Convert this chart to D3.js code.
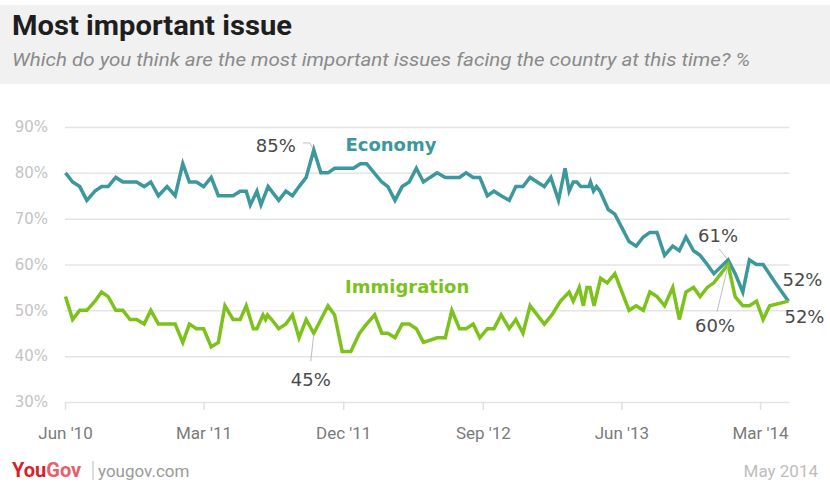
<!DOCTYPE html>
<html>
<head>
<meta charset="utf-8">
<script src="https://cdnjs.cloudflare.com/ajax/libs/d3/7.8.5/d3.min.js"></script>
<style>
  body { margin: 0; background: #fff; }
  svg { display: block; }
</style>
</head>
<body>
<div id="main"></div>
<script>
/*********************************************************
 * Data
 *********************************************************/
const econDates = [
  '2010-06-02', '2010-06-16', '2010-06-30', '2010-07-14', '2010-07-30', '2010-08-12', '2010-08-25',
  '2010-09-09', '2010-09-23', '2010-10-07', '2010-10-20', '2010-11-04', '2010-11-17', '2010-12-02',
  '2010-12-19', '2011-01-04', '2011-01-19', '2011-02-01', '2011-02-15', '2011-03-01', '2011-03-16',
  '2011-03-30', '2011-04-12', '2011-04-28', '2011-05-12', '2011-05-24', '2011-06-01', '2011-06-14',
  '2011-06-22', '2011-07-06', '2011-07-27', '2011-08-10', '2011-08-23', '2011-09-05', '2011-09-19',
  '2011-10-04', '2011-10-18', '2011-11-01', '2011-11-14', '2011-11-29', '2011-12-07', '2011-12-21',
  '2012-01-04', '2012-01-16', '2012-01-31', '2012-02-15', '2012-02-27', '2012-03-12', '2012-03-26',
  '2012-04-09', '2012-04-23', '2012-05-07', '2012-05-20', '2012-06-03', '2012-06-19', '2012-07-02',
  '2012-07-17', '2012-07-30', '2012-08-13', '2012-08-26', '2012-09-10', '2012-09-23', '2012-10-07',
  '2012-10-23', '2012-11-05', '2012-11-19', '2012-12-03', '2012-12-17', '2012-12-31', '2013-01-13',
  '2013-01-28', '2013-02-10', '2013-02-18', '2013-02-26', '2013-03-05', '2013-03-13', '2013-03-29',
  '2013-04-01', '2013-04-07', '2013-04-13', '2013-04-20', '2013-05-06', '2013-05-19', '2013-06-02',
  '2013-06-16', '2013-06-30', '2013-07-14', '2013-07-27', '2013-08-10', '2013-08-25', '2013-09-10',
  '2013-09-23', '2013-10-06', '2013-10-21', '2013-11-03', '2013-11-17', '2013-11-30', '2013-12-28',
  '2014-01-11', '2014-01-26', '2014-02-08', '2014-02-22', '2014-03-07', '2014-03-31', '2014-04-26'
];
const econValues = [
  80, 78, 77, 74, 76, 77, 77,
  79, 78, 78, 78, 77, 78, 75,
  77, 75, 82, 78, 78, 77, 79,
  75, 75, 75, 76, 76, 73, 76,
  73, 77, 74, 76, 75, 77, 79,
  85, 80, 80, 81, 81, 81, 81,
  82, 82, 80, 78, 77, 74, 77,
  78, 81, 78, 79, 80, 79, 79,
  79, 80, 79, 79, 75, 76, 75,
  74, 77, 77, 79, 78, 77, 79,
  74, 81, 76, 78, 78, 77, 77,
  78, 76, 77, 76, 72, 71, 68,
  65, 64, 66, 67, 67, 62, 64,
  63, 66, 63, 62, 60, 58, 61,
  58, 54, 61, 60, 60, 56, 52
];

const immDates = [
  '2010-06-02', '2010-06-16', '2010-06-30', '2010-07-14', '2010-07-30', '2010-08-12', '2010-08-25',
  '2010-09-09', '2010-09-23', '2010-10-07', '2010-10-20', '2010-11-04', '2010-11-17', '2010-12-02',
  '2010-12-19', '2011-01-04', '2011-01-19', '2011-02-01', '2011-02-15', '2011-03-01', '2011-03-16',
  '2011-03-30', '2011-04-12', '2011-04-28', '2011-05-12', '2011-05-24', '2011-06-07', '2011-06-14',
  '2011-06-22', '2011-06-26', '2011-07-01', '2011-07-05', '2011-07-13', '2011-07-27', '2011-08-10',
  '2011-08-23', '2011-09-05', '2011-09-19', '2011-10-04', '2011-10-18', '2011-11-01', '2011-11-14',
  '2011-11-29', '2011-12-16', '2012-01-02', '2012-01-16', '2012-02-01', '2012-02-15', '2012-02-27',
  '2012-03-12', '2012-03-26', '2012-04-09', '2012-04-23', '2012-05-07', '2012-06-03', '2012-06-19',
  '2012-07-02', '2012-07-17', '2012-07-30', '2012-08-13', '2012-08-26', '2012-09-10', '2012-09-23',
  '2012-10-07', '2012-10-23', '2012-11-05', '2012-11-19', '2012-12-03', '2012-12-17', '2012-12-31',
  '2013-01-15', '2013-02-01', '2013-02-18', '2013-02-26', '2013-03-10', '2013-03-18', '2013-03-25',
  '2013-03-31', '2013-04-08', '2013-04-21', '2013-05-04', '2013-05-19', '2013-06-16', '2013-06-30',
  '2013-07-14', '2013-07-27', '2013-08-10', '2013-08-25', '2013-09-10', '2013-09-23', '2013-10-06',
  '2013-10-21', '2013-11-03', '2013-11-17', '2013-11-30', '2013-12-14', '2013-12-28', '2014-01-11',
  '2014-01-26', '2014-02-08', '2014-02-22', '2014-03-07', '2014-03-20', '2014-04-26'
];
const immValues = [
  53, 48, 50, 50, 52, 54, 53,
  50, 50, 48, 48, 47, 50, 47,
  47, 47, 43, 47, 46, 46, 42,
  43, 51, 48, 48, 51, 46, 46,
  48, 49, 48, 49, 48, 46, 47,
  49, 44, 48, 45, 48, 51, 49,
  41, 41, 45, 47, 49, 45, 45,
  44, 47, 47, 46, 43, 44, 44,
  50, 46, 46, 47, 44, 46, 46,
  49, 46, 48, 45, 51, 49, 47,
  49, 52, 54, 52, 55, 51, 55,
  55, 51, 57, 56, 58, 50, 51,
  50, 54, 53, 51, 55, 48, 54,
  55, 53, 55, 56, 58, 60, 53,
  51, 51, 52, 48, 51, 52
];

const xTickDates = ['2010-06-01', '2011-03-01', '2011-12-01', '2012-09-01', '2013-06-01', '2014-03-01'];
const yTicks = [30, 40, 50, 60, 70, 80, 90];
const xStart = '2010-06-01';
const xEnd = '2014-04-28';

const econColor = '#3c989c';
const immColor = '#7cc21b';

/*********************************************************
 * Layout
 *********************************************************/
const svgWidth = 830;
const svgHeight = 483;
const plotBox = { l: 65, r: 789.5, t: 127, b: 402 };

const parseDate = d3.timeParse('%Y-%m-%d');

const svg = d3
  .select('#main')
  .append('svg')
  .attr('width', svgWidth)
  .attr('height', svgHeight)
  .style('font-family', "'DejaVu Sans', sans-serif");

/*********************************************************
 * Header
 *********************************************************/
svg.append('rect')
  .attr('x', 0)
  .attr('y', 5)
  .attr('width', svgWidth)
  .attr('height', 79)
  .attr('fill', '#f1f1f1');

svg.append('text')
  .attr('x', 12)
  .attr('y', 35)
  .attr('font-family', 'Roboto, sans-serif')
  .attr('font-weight', 'bold')
  .attr('font-size', 27)
  .attr('fill', '#1e1e1e')
  .attr('textLength', 280)
  .attr('lengthAdjust', 'spacingAndGlyphs')
  .text('Most important issue');

svg.append('text')
  .attr('x', 12)
  .attr('y', 66)
  .attr('font-family', 'Roboto, sans-serif')
  .attr('font-style', 'italic')
  .attr('font-size', 19)
  .attr('fill', '#8a8a8a')
  .attr('textLength', 738)
  .attr('lengthAdjust', 'spacingAndGlyphs')
  .text('Which do you think are the most important issues facing the country at this time? %');

/*********************************************************
 * Scales and axes
 *********************************************************/
const x = d3.scaleTime()
  .domain([parseDate(xStart), parseDate(xEnd)])
  .range([plotBox.l, plotBox.r]);

const y = d3.scaleLinear()
  .domain([30, 90])
  .range([plotBox.b, plotBox.t]);

const yAxis = d3.axisLeft(y)
  .tickValues(yTicks)
  .tickSize(-(plotBox.r - plotBox.l))
  .tickPadding(17)
  .tickFormat(d => d + '%');

const gY = svg.append('g')
  .attr('class', 'axis axis--y')
  .attr('transform', `translate(${plotBox.l},0)`)
  .call(yAxis);
gY.select('.domain').remove();
gY.selectAll('line').attr('stroke', '#e4e4e4').attr('stroke-width', 1.5);
gY.selectAll('text')
  .attr('fill', '#c4c4c4')
  .attr('font-size', 15)
  .attr('font-family', "'DejaVu Sans', sans-serif");

const xAxis = d3.axisBottom(x)
  .tickValues(xTickDates.map(parseDate))
  .tickSize(8)
  .tickPadding(17)
  .tickFormat(d3.timeFormat("%b '%y"));

const gX = svg.append('g')
  .attr('class', 'axis axis--x')
  .attr('transform', `translate(0,${plotBox.b})`)
  .call(xAxis);
gX.select('.domain').remove();
gX.selectAll('line').attr('stroke', '#e0e0e0').attr('stroke-width', 1.5);
gX.selectAll('text')
  .attr('fill', '#7a7a7a')
  .attr('font-size', 17)
  .attr('font-family', 'Roboto, sans-serif');

/*********************************************************
 * Lines
 *********************************************************/
const econ = econDates.map((d, i) => ({ date: parseDate(d), value: econValues[i] }));
const imm = immDates.map((d, i) => ({ date: parseDate(d), value: immValues[i] }));

const line = d3.line()
  .x(d => x(d.date))
  .y(d => y(d.value));

svg.append('path')
  .datum(econ)
  .attr('d', line)
  .attr('fill', 'none')
  .attr('stroke', econColor)
  .attr('stroke-width', 3.5);

svg.append('path')
  .datum(imm)
  .attr('d', line)
  .attr('fill', 'none')
  .attr('stroke', immColor)
  .attr('stroke-width', 3.5);

/*********************************************************
 * Series labels
 *********************************************************/
svg.append('text')
  .attr('x', x(parseDate('2012-03-04')))
  .attr('y', y(84.8))
  .attr('text-anchor', 'middle')
  .attr('font-weight', 'bold')
  .attr('font-size', 18)
  .attr('fill', econColor)
  .text('Economy');

svg.append('text')
  .attr('x', x(parseDate('2012-04-05')))
  .attr('y', y(53.7))
  .attr('text-anchor', 'middle')
  .attr('font-weight', 'bold')
  .attr('font-size', 18)
  .attr('fill', immColor)
  .text('Immigration');

/*********************************************************
 * Annotations
 *********************************************************/
function findPoint(series, date) {
  const t = parseDate(date).getTime();
  return series.find(d => d.date.getTime() === t);
}

const econPeak = econ[d3.maxIndex(econ, d => d.value)];
const immDip = findPoint(imm, '2011-10-04');
const econCross = findPoint(econ, '2013-12-28');
const immCross = findPoint(imm, '2013-12-28');
const econLast = econ[econ.length - 1];
const immLast = imm[imm.length - 1];

const notes = svg.append('g').attr('class', 'notes');

function leader(points) {
  notes.append('path')
    .attr('d', d3.line()(points))
    .attr('fill', 'none')
    .attr('stroke', '#bdbdbd')
    .attr('stroke-width', 1);
}

function label(px, py, txt, anchor) {
  notes.append('text')
    .attr('x', px)
    .attr('y', py)
    .attr('text-anchor', anchor)
    .attr('font-size', 18)
    .attr('fill', '#4a4a4a')
    .text(txt);
}

// 85% peak
let px = x(econPeak.date), py = y(econPeak.value);
leader([[px - 11, py - 7], [px - 4, py - 7], [px - 1, py - 2]]);
label(px - 18, py + 2.5, econPeak.value + '%', 'end');

// 45% dip
px = x(immDip.date); py = y(immDip.value);
leader([[px, py + 1], [px - 3, py + 28]]);
label(px - 3, py + 53, immDip.value + '%', 'middle');

// 61% / 60% crossing
px = x(econCross.date); py = y(econCross.value);
leader([[px - 9, py - 11], [px - 1, py - 1]]);
label(px - 10, py - 18, econCross.value + '%', 'middle');

px = x(immCross.date); py = y(immCross.value);
leader([[px, py + 1], [px - 11, py + 47]]);
label(px - 13, py + 67, immCross.value + '%', 'middle');

// last values
px = x(econLast.date); py = y(econLast.value);
label(px + 14, py - 15, econLast.value + '%', 'middle');
px = x(immLast.date); py = y(immLast.value);
label(px + 16, py + 22, immLast.value + '%', 'middle');

/*********************************************************
 * Footer
 *********************************************************/
const logo = svg.append('text')
  .attr('x', 12)
  .attr('y', 477)
  .attr('font-family', 'Roboto, sans-serif')
  .attr('font-weight', 'bold')
  .attr('font-size', 20);
logo.append('tspan').attr('fill', '#d81f2a').text('You');
logo.append('tspan').attr('fill', '#e6606a').text('Gov');

svg.append('line')
  .attr('x1', 93).attr('x2', 93)
  .attr('y1', 461).attr('y2', 480)
  .attr('stroke', '#bbbbbb')
  .attr('stroke-width', 1);

svg.append('text')
  .attr('x', 98)
  .attr('y', 477)
  .attr('font-family', 'Roboto, sans-serif')
  .attr('font-size', 17)
  .attr('fill', '#9a9a9a')
  .text('yougov.com');

svg.append('text')
  .attr('x', 818)
  .attr('y', 477)
  .attr('text-anchor', 'end')
  .attr('font-family', 'Roboto, sans-serif')
  .attr('font-size', 17)
  .attr('fill', '#bdbdbd')
  .text('May 2014');
</script>
</body>
</html>
